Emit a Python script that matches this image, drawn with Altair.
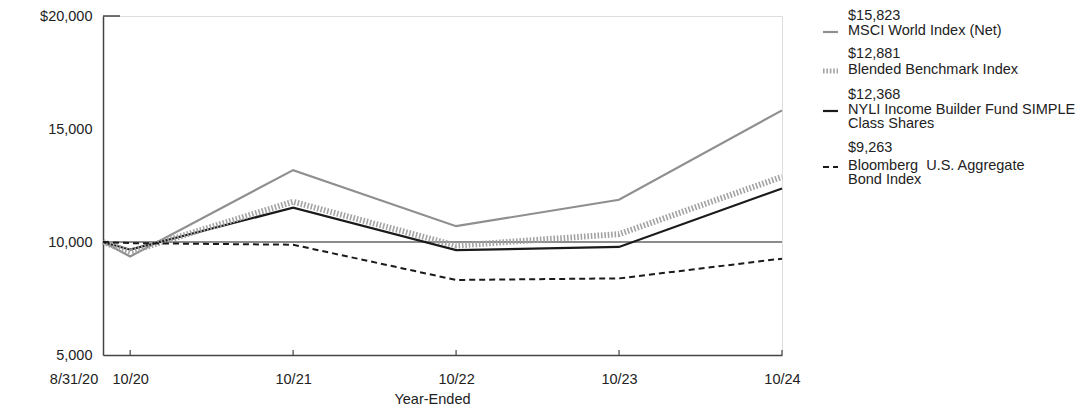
import altair as alt
import pandas as pd

# ---- data ----
months = [0, 2, 14, 26, 38, 50]          # months since 8/31/20
tick_months = [2, 14, 26, 38, 50]
tick_labels = ["10/20", "10/21", "10/22", "10/23", "10/24"]
start_label = "8/31/20"

series_names = [
    "MSCI World Index (Net)",
    "Blended Benchmark Index",
    "NYLI Income Builder Fund SIMPLE Class Shares",
    "Bloomberg  U.S. Aggregate Bond Index",
]
legend_lines = [
    "MSCI World Index (Net)",
    "Blended Benchmark Index",
    "NYLI Income Builder Fund SIMPLE\nClass Shares",
    "Bloomberg\u00a0 U.S. Aggregate\nBond Index",
]
msci = [10000, 9360, 13180, 10700, 11870, 15823]
blended = [10000, 9560, 11780, 9840, 10350, 12881]
nyli = [10000, 9660, 11520, 9640, 9780, 12368]
bloomberg = [10000, 9950, 9880, 8320, 8390, 9263]
all_values = [msci, blended, nyli, bloomberg]

W, H = 679, 339
FONT = "Liberation Sans"
FS = 14.5
TXT = "#222222"

styles = [
    dict(color="#8f8f8f", strokeWidth=2.2),
    dict(color="#a3a3a3", strokeWidth=6, strokeDash=[1.6, 1.8]),
    dict(color="#1a1a1a", strokeWidth=2.2),
    dict(color="#1a1a1a", strokeWidth=2, strokeDash=[6, 4]),
]

xscale = alt.Scale(domain=[0, 50], nice=False, zero=False)
yscale = alt.Scale(domain=[5000, 20000], nice=False, zero=False)

label_map = "{" + ",".join(f"'{m}':'{l}'" for m, l in zip(tick_months, tick_labels)) + "}"

base_axes = alt.Chart(pd.DataFrame({"m": [0], "v": [5000]})).mark_point(opacity=0).encode(
    x=alt.X("m:Q", scale=xscale,
            axis=alt.Axis(values=tick_months, labelExpr=f"{label_map}[''+datum.value]",
                          ticks=False, tickSize=0, grid=False, title="Year-Ended",
                          titleFont=FONT, titleFontSize=FS, titleFontWeight="normal",
                          titleColor=TXT, titlePadding=7, titleX=329,
                          labelFont=FONT, labelFontSize=FS, labelColor=TXT, labelPadding=17,
                          domainColor="#444444", domainWidth=1.5, labelFlush=False)),
    y=alt.Y("v:Q", scale=yscale,
            axis=alt.Axis(values=[5000, 10000, 15000, 20000],
                          labelExpr="datum.value == 20000 ? '$20,000' : format(datum.value, ',')",
                          ticks=False, tickSize=0, grid=False, title=None,
                          labelFont=FONT, labelFontSize=FS, labelColor=TXT, labelPadding=11,
                          domainColor="#444444", domainWidth=1.5, labelFlush=False)),
)

ref_line = alt.Chart(pd.DataFrame({"v": [10000]})).mark_rule(color="#666666", strokeWidth=1.5).encode(
    y=alt.Y("v:Q", scale=yscale), x=alt.value(0), x2=alt.value(W))

top_stub = alt.Chart(pd.DataFrame({"v": [20000]})).mark_rule(color="#444444", strokeWidth=1.5).encode(
    y=alt.Y("v:Q", scale=yscale), x=alt.value(0), x2=alt.value(17))

xticks = alt.Chart(pd.DataFrame({"m": tick_months})).mark_rule(color="#444444", strokeWidth=1.2).encode(
    x=alt.X("m:Q", scale=xscale), y=alt.value(H), y2=alt.value(H - 5))

start_txt = alt.Chart(pd.DataFrame({"m": [0], "t": [start_label]})).mark_text(
    font=FONT, fontSize=FS, color=TXT, dx=-29, baseline="middle", align="center").encode(
    x=alt.X("m:Q", scale=xscale), y=alt.value(H + 25), text="t:N")

layers = [base_axes, ref_line, top_stub, xticks, start_txt]

order = [0, 2, 1, 3]
for i in order:
    df = pd.DataFrame({"m": months, "v": all_values[i]})
    st = styles[i]
    kw = dict(color=st["color"], strokeWidth=st["strokeWidth"], strokeJoin="miter", strokeCap="butt")
    if "strokeDash" in st:
        kw["strokeDash"] = st["strokeDash"]
    layers.append(alt.Chart(df).mark_line(**kw).encode(
        x=alt.X("m:Q", scale=xscale), y=alt.Y("v:Q", scale=yscale)))

# ---- legend ----
legend_value_y = [0, 38, 79, 132]
legend_name_y = [16, 55, 95, 151]
for i in range(4):
    st = styles[i]
    val_txt = "$" + format(all_values[i][-1], ",")
    dfl = pd.DataFrame({"val": [val_txt], "name": [legend_lines[i]]})
    layers.append(alt.Chart(dfl).mark_text(font=FONT, fontSize=FS, color=TXT, align="left",
                                           baseline="middle").encode(
        x=alt.value(745), y=alt.value(legend_value_y[i]), text="val:N"))
    layers.append(alt.Chart(dfl).mark_text(font=FONT, fontSize=FS, color=TXT, align="left",
                                           baseline="top", lineBreak="\n", lineHeight=14).encode(
        x=alt.value(745), y=alt.value(legend_name_y[i] - 8), text="name:N"))
    kw = dict(color=st["color"], strokeWidth=min(st["strokeWidth"], 5), strokeCap="butt")
    if "strokeDash" in st:
        kw["strokeDash"] = st["strokeDash"]
    layers.append(alt.Chart(dfl).mark_rule(**kw).encode(
        x=alt.value(720), x2=alt.value(735), y=alt.value(legend_name_y[i])))

chart = alt.layer(*layers).properties(
    width=W, height=H,
    autosize=alt.AutoSizeParams(type="none"),
    padding={"left": 95, "top": 8, "right": 302, "bottom": 54},
).configure_view(stroke=None).configure(background="white")

chart.save("out.html", embed_options={"renderer": "svg", "actions": False})
